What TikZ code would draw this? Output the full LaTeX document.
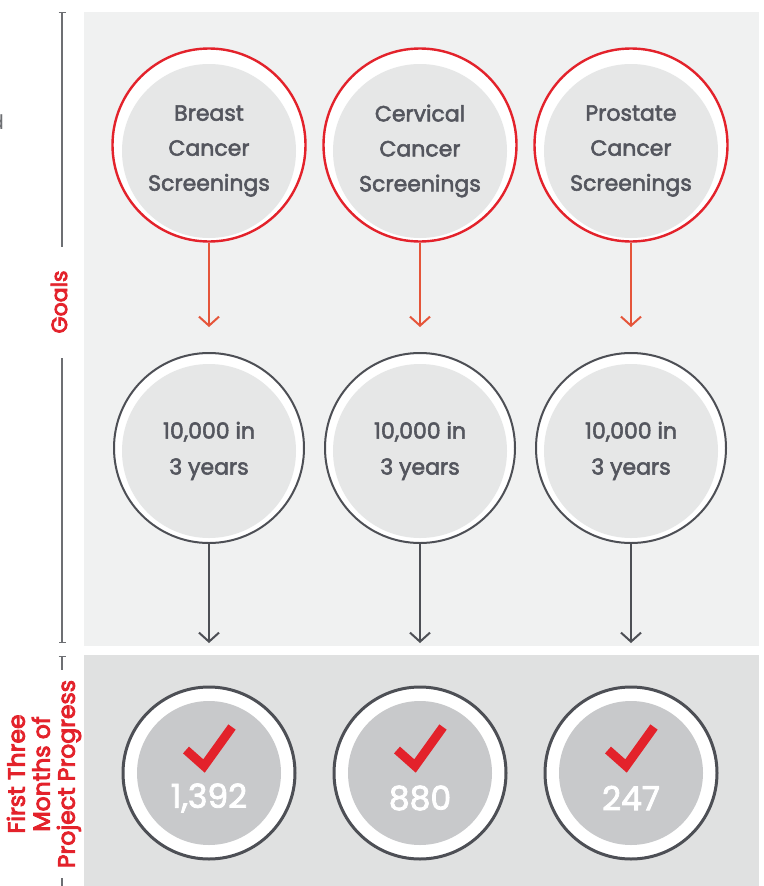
\documentclass[tikz,border=0pt]{standalone}
\usepackage{fontspec}
\setmainfont{Poppins}
\newfontfamily\midweight{Poppins}[FakeBold=2.5]
\newfontfamily\labelweight{Poppins}[FakeBold=3.8]
\usetikzlibrary{arrows.meta}

\definecolor{panelA}{HTML}{F0F1F1}
\definecolor{panelB}{HTML}{E0E1E1}
\definecolor{diskA}{HTML}{E6E7E7}
\definecolor{diskB}{HTML}{C8C9CB}
\definecolor{ink}{HTML}{54565E}
\definecolor{ring}{HTML}{4D4F55}
\definecolor{brand}{HTML}{E3222B}
\definecolor{arrowred}{HTML}{E5553A}
\definecolor{axisgray}{HTML}{6D6F73}

\tikzset{
  goalring/.style={circle, draw=brand, line width=2.4pt, fill=white, minimum size=193pt, inner sep=0pt},
  targetring/.style={circle, draw=ring, line width=2pt, fill=white, minimum size=190pt, inner sep=0pt},
  donering/.style={circle, draw=ring, line width=3pt, fill=white, minimum size=172pt, inner sep=0pt},
  softdisk/.style={circle, fill=diskA, minimum size=174pt, inner sep=0pt, text=ink, align=center,
    font=\midweight\fontsize{22}{35}\selectfont},
  targetdisk/.style={softdisk, font=\midweight\fontsize{22}{36}\selectfont},
  donedisk/.style={circle, fill=diskB, minimum size=144pt, inner sep=0pt},
  count/.style={text=white, font=\midweight\fontsize{33}{36}\selectfont},
  check mark/.style={draw=brand, line width=9pt, line join=miter, line cap=butt},
  redflow/.style={draw=arrowred, line width=2pt, -{Straight Barb[length=9pt,width=20pt]}},
  darkflow/.style={draw=ring, line width=2pt, -{Straight Barb[length=9pt,width=20pt]}},
  axisline/.style={draw=axisgray, line width=1.2pt},
  sidelabel/.style={text=brand, font=\labelweight\fontsize{22}{25}\selectfont, rotate=90, align=center},
  widelabel/.style={sidelabel, font=\labelweight\fontsize{23.5}{25}\selectfont},
}

\begin{document}
\begin{tikzpicture}[x=1pt, y=-1pt]
  \useasboundingbox (0,0) rectangle (763,886);

  % background panels
  \fill[panelA] (84,12) rectangle (759,646);
  \fill[panelB] (84,655) rectangle (759,886);

  % stray letter cut off at the left edge
  \node[anchor=east, text=axisgray, font=\fontsize{20}{20}\selectfont, inner sep=0pt] (stray) at (4,122) {d};

  % side axis with its labels
  \coordinate (ax1) at (62,12);
  \coordinate (ax2) at (62,247);
  \coordinate (ax3) at (62,358);
  \coordinate (ax4) at (62,643);
  \coordinate (ax5) at (62,656);
  \coordinate (ax6) at (62,670);
  \coordinate (ax7) at (62,878);
  \coordinate (ax8) at (62,890);
  \draw[axisline, {Bar[width=7pt]}-] (ax1) -- (ax2);
  \draw[axisline, -{Bar[width=7pt]}] (ax3) -- (ax4);
  \draw[axisline, {Bar[width=7pt]}-] (ax5) -- (ax6);
  \draw[axisline] (ax7) -- (ax8);
  \node[sidelabel] (goals) at (59,302) {Goals};
  \node[widelabel] (progress) at (44,774) {First Three\\Months of\\Project Progress};

  % three columns: goal, target, progress
  \foreach \i/\cx/\goal/\num in {1/209/{Breast\\Cancer\\Screenings}/{1,392},
                                  2/420/{Cervical\\Cancer\\Screenings}/880,
                                  3/631/{Prostate\\Cancer\\Screenings}/247} {
    \node[goalring] (g\i) at (\cx,145) {};
    \node[softdisk] (gd\i) at (\cx,151) {\goal};
    \node[targetring] (t\i) at (\cx,448) {};
    \node[targetdisk] (td\i) at (\cx,451) {10,000 in\\3 years};
    \node[donering] (p\i) at (\cx,773) {};
    \node[donedisk] (pd\i) at (\cx,773) {};
    \node[count] (n\i) at (\cx,798) {\num};
    \coordinate (r\i) at (\cx,327);
    \coordinate (d\i) at (\cx,643);
    \draw[redflow] (g\i.south) -- (r\i);
    \draw[darkflow] (t\i.south) -- (d\i);
    \draw[check mark] (\cx-23,750) -- ++(18,16) -- ++(28,-39);
  }
\end{tikzpicture}
\end{document}
